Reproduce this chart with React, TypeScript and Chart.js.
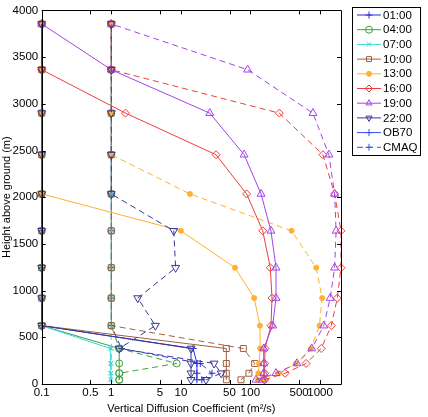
import React, { useEffect, useRef } from 'react';
import { Chart, registerables } from 'chart.js';
import { drawPoint } from 'chart.js/helpers';

Chart.register(...registerables);

// ---- data ----
const heights = [45, 115, 220, 380, 625, 920, 1245, 1640, 2035, 2455, 2900, 3365, 3855];
const times = ['01:00', '04:00', '07:00', '10:00', '13:00', '16:00', '19:00', '22:00'];

// OB70 Kz (bottom to top)
const ob70_0100 = [17, 17, 17, 15, 0.1, 0.1, 0.1, 0.1, 0.1, 0.1, 0.1, 0.1, 0.1];
const ob70_0400 = [1.3, 1.3, 1.3, 1.3, 0.1, 0.1, 0.1, 0.1, 0.1, 0.1, 0.1, 0.1, 0.1];
const ob70_0700 = [0.97, 0.97, 0.97, 0.97, 0.1, 0.1, 0.1, 0.1, 0.1, 0.1, 0.1, 0.1, 0.1];
const ob70_1000 = [45, 45, 45, 45, 0.1, 0.1, 0.1, 0.1, 0.1, 0.1, 0.1, 0.1, 0.1];
const ob70_1300 = [155, 130, 133, 138, 137, 113, 60, 10, 0.1, 0.1, 0.1, 0.1, 0.1];
const ob70_1600 = [160, 160, 160, 162, 197, 204, 193, 150, 88, 32, 1.6, 0.1, 0.1];
const ob70_1900 = [150, 155, 155, 155, 208, 233, 233, 197, 142, 81, 26, 1, 0.1];
const ob70_2200 = [14, 14, 14, 14, 0.1, 0.1, 0.1, 0.1, 0.1, 0.1, 0.1, 0.1, 0.1];

// CMAQ Kz (bottom to top)
const cmaq_0100 = [20, 28, 19, 1.4, 1, 1, 1, 1, 1, 1, 1, 1, 1];
const cmaq_0400 = [1.3, 1.3, 8.7, 1.3, 1, 1, 1, 1, 1, 1, 1, 1, 1];
const cmaq_0700 = [1, 1, 1, 1, 1, 1, 1, 1, 1, 1, 1, 1, 1];
const cmaq_1000 = [73, 95, 115, 79, 1, 1, 1, 1, 1, 1, 1, 1, 1];
const cmaq_1300 = [127, 250, 450, 740, 980, 1070, 880, 390, 13.5, 1, 1, 1, 1];
const cmaq_1600 = [158, 315, 630, 1040, 1450, 1770, 2000, 2000, 1620, 1100, 260, 1, 1];
const cmaq_1900 = [120, 233, 465, 760, 1130, 1400, 1620, 1700, 1620, 1340, 790, 91, 1];
const cmaq_2200 = [23, 38, 30, 1.3, 4.3, 2.4, 8.4, 7.9, 1, 1, 1, 1, 1];

const ob70Series = [ob70_0100, ob70_0400, ob70_0700, ob70_1000, ob70_1300, ob70_1600, ob70_1900, ob70_2200];
const cmaqSeries = [cmaq_0100, cmaq_0400, cmaq_0700, cmaq_1000, cmaq_1300, cmaq_1600, cmaq_1900, cmaq_2200];

const xTickValues = [0.1, 0.5, 1, 5, 10, 50, 100, 500, 1000];
const yTickValues = [0, 500, 1000, 1500, 2000, 2500, 3000, 3500, 4000];

// ---- styles ----
const styles = [
  { color: '#2b2bd8', pointStyle: 'cross', rotation: 0, filled: false, radius: 3.5 },
  { color: '#3f9f3f', pointStyle: 'circle', rotation: 0, filled: false, radius: 3.5 },
  { color: '#3fd6d6', pointStyle: 'crossRot', rotation: 0, filled: false, radius: 3 },
  { color: '#a0603a', pointStyle: 'rect', rotation: 0, filled: false, radius: 4.2 },
  { color: '#ffb030', pointStyle: 'circle', rotation: 0, filled: true, radius: 2.5 },
  { color: '#f03c3c', pointStyle: 'rectRot', rotation: 0, filled: false, radius: 4 },
  { color: '#a444e6', pointStyle: 'triangle', rotation: 0, filled: false, radius: 4.6 },
  { color: '#383894', pointStyle: 'triangle', rotation: 180, filled: false, radius: 4.6 },
];
const dashPattern = [6, 4];
const FONT = { family: "'Liberation Sans', Arial, sans-serif", size: 11 };
const TICK_FONT = { family: "'Liberation Sans', Arial, sans-serif", size: 11.5 };

function buildDatasets() {
  const ds: any[] = [];
  let n = 0;
  const total = times.length * 2;
  times.forEach((t, i) => {
    const st = styles[i];
    [ob70Series[i], cmaqSeries[i]].forEach((vals, k) => {
      ds.push({
        label: t + (k === 0 ? ' OB70' : ' CMAQ'),
        data: vals.map((v, j) => ({ x: v, y: heights[j] })),
        borderColor: st.color,
        borderWidth: 1,
        borderDash: k === 1 ? dashPattern : [],
        pointStyle: st.pointStyle,
        pointRotation: st.rotation,
        pointRadius: st.radius,
        pointBorderColor: st.color,
        pointBorderWidth: 1,
        pointBackgroundColor: st.filled ? st.color : 'rgba(0,0,0,0)',
        fill: false,
        tension: 0,
        clip: false,
        order: total - n,
      });
      n++;
    });
  });
  return ds;
}

const boxPlugin = {
  id: 'box',
  afterDraw(chart: any) {
    const { ctx, chartArea } = chart;
    const { left, right, top, bottom } = chartArea;
    const xs = chart.scales.x;
    const ys = chart.scales.y;
    ctx.save();
    ctx.strokeStyle = '#000';
    ctx.lineWidth = 1;
    ctx.beginPath();
    ctx.rect(Math.round(left) + 0.5, Math.round(top) + 0.5, Math.round(right - left), Math.round(bottom - top));
    ctx.stroke();
    const tl = 4;
    ctx.beginPath();
    xTickValues.forEach((v) => {
      const px = Math.round(xs.getPixelForValue(v)) + 0.5;
      ctx.moveTo(px, bottom);
      ctx.lineTo(px, bottom - tl);
      ctx.moveTo(px, top);
      ctx.lineTo(px, top + tl);
    });
    yTickValues.forEach((v) => {
      const py = Math.round(ys.getPixelForValue(v)) + 0.5;
      ctx.moveTo(left, py);
      ctx.lineTo(left + tl, py);
      ctx.moveTo(right, py);
      ctx.lineTo(right - tl, py);
    });
    ctx.stroke();
    ctx.restore();
  },
};

const legendPlugin = {
  id: 'customLegend',
  afterDraw(chart: any) {
    const { ctx } = chart;
    const bx = 352, by = 7, bw = 68, bh = 148;
    ctx.save();
    ctx.fillStyle = '#fff';
    ctx.fillRect(bx, by, bw, bh);
    ctx.strokeStyle = '#000';
    ctx.lineWidth = 1;
    ctx.strokeRect(bx + 0.5, by + 0.5, bw, bh);
    const entries: any[] = times.map((t, i) => ({ label: t, st: styles[i], dash: [] }));
    entries.push({ label: 'OB70', st: { ...styles[0], color: '#3a4ee6' }, dash: [] });
    entries.push({ label: 'CMAQ', st: { ...styles[0], color: '#3a4ee6' }, dash: dashPattern });
    const step = 14.7;
    entries.forEach((e, i) => {
      const y = 15 + i * step;
      ctx.strokeStyle = e.st.color;
      ctx.lineWidth = 1;
      ctx.setLineDash(e.dash);
      ctx.beginPath();
      ctx.moveTo(357, y);
      ctx.lineTo(381, y);
      ctx.stroke();
      ctx.setLineDash([]);
      ctx.fillStyle = e.st.filled ? e.st.color : 'rgba(0,0,0,0)';
      ctx.strokeStyle = e.st.color;
      drawPoint(ctx, {
        pointStyle: e.st.pointStyle,
        rotation: e.st.rotation,
        radius: Math.min(e.st.radius, 3.5),
        borderWidth: 1,
      } as any, 369, y);
      ctx.fillStyle = '#000';
      ctx.font = `${FONT.size + 0.5}px ${FONT.family}`;
      ctx.textAlign = 'left';
      ctx.textBaseline = 'middle';
      ctx.fillText(e.label, 383, y + 0.5);
    });
    ctx.restore();
  },
};

export default function App() {
  const ref = useRef<HTMLCanvasElement | null>(null);
  useEffect(() => {
    document.body.style.margin = '0';
    const canvas = ref.current;
    if (!canvas) return;
    const chart = new Chart(canvas, {
      type: 'line',
      data: { datasets: buildDatasets() },
      options: {
        responsive: false,
        animation: false,
        devicePixelRatio: 1,
        layout: { padding: { left: 0, right: 87, top: 7, bottom: 0 } },
        plugins: { legend: { display: false }, tooltip: { enabled: false } },
        scales: {
          x: {
            type: 'logarithmic',
            min: 0.1,
            max: 2000,
            afterBuildTicks: (s: any) => {
              s.ticks = xTickValues.map((v) => ({ value: v }));
            },
            ticks: {
              autoSkip: false,
              maxRotation: 0,
              minRotation: 0,
              padding: 2,
              color: '#000',
              font: TICK_FONT,
              callback: (v: any) => String(v),
            },
            grid: { display: false, drawTicks: false },
            border: { display: false },
            title: {
              display: true,
              text: 'Vertical Diffusion Coefficient (m²/s)',
              color: '#000',
              font: FONT,
              padding: { top: 0, bottom: 1.5 },
            },
            afterFit: (s: any) => {
              s.height = 33;
            },
          },
          y: {
            type: 'linear',
            min: 0,
            max: 4000,
            afterBuildTicks: (s: any) => {
              s.ticks = yTickValues.map((v) => ({ value: v }));
            },
            ticks: {
              padding: 3.5,
              color: '#000',
              font: TICK_FONT,
              callback: (v: any) => String(v),
            },
            grid: { display: false, drawTicks: false },
            border: { display: false },
            title: {
              display: true,
              text: 'Height above ground (m)',
              color: '#000',
              font: FONT,
              padding: { top: 0, bottom: 0 },
            },
            afterFit: (s: any) => {
              s.width = 41.7;
            },
          },
        },
      } as any,
      plugins: [boxPlugin, legendPlugin],
    });
    return () => chart.destroy();
  }, []);
  return (
    <div style={{ position: 'absolute', left: 0, top: 0, width: 428, height: 417 }}>
      <canvas ref={ref} width={428} height={417} style={{ width: 428, height: 417, display: 'block' }} />
    </div>
  );
}
